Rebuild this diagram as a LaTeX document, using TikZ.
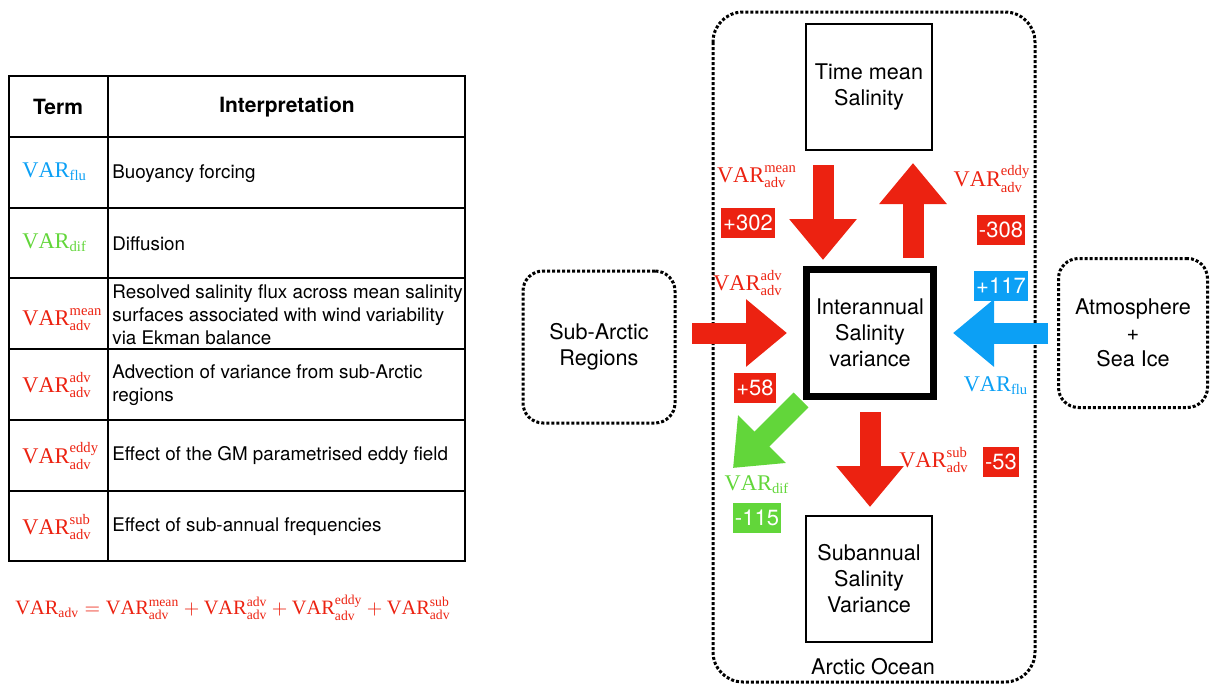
\documentclass[tikz,border=0pt]{standalone}
\usepackage{fontspec}
\setmainfont{TeX Gyre Heros}
\setmathrm{Liberation Serif}
\usetikzlibrary{arrows.meta}

\definecolor{varred}{RGB}{236,34,17}
\definecolor{varblue}{RGB}{12,160,245}
\definecolor{vargreen}{RGB}{98,214,58}

\DeclareMathSizes{11.2}{11.2}{7.3}{5}
\DeclareMathSizes{10.2}{10.2}{6.8}{5}

\newcommand{\vadv}[1]{$\mathrm{VAR}^{\mathrm{#1}}_{\mathrm{adv}}$}
\newcommand{\vsub}[1]{$\mathrm{VAR}_{\mathrm{#1}}$}

\tikzset{
  every node/.style={font=\fontsize{10.8}{13}\selectfont},
  headtxt/.style={font=\fontsize{10.5}{12.5}\selectfont\bfseries},
  celltxt/.style={anchor=west, align=left, inner sep=0pt, font=\fontsize{9.4}{11.6}\selectfont},
  vartxt/.style={inner sep=0pt, font=\fontsize{11.2}{12}\selectfont},
  salbox/.style={draw, line width=1pt, minimum width=63pt, minimum height=63pt, align=center},
  dotbox/.style={draw, line width=1.5pt, dash pattern=on 1.5pt off 1pt, rounded corners=10pt, align=center},
  numbox/.style={text=white, inner xsep=1.2pt, inner ysep=0pt, minimum height=15pt, font=\fontsize{11}{12}\selectfont},
  bigarr/.style={line width=10.5pt, -{Triangle[length=20.5pt, width=32.5pt]}}
}

\begin{document}
\begin{tikzpicture}[x=0.5pt, y=-0.5pt]
\useasboundingbox (0,0) rectangle (1212,685);

% table of terms
\draw[line width=0.6pt] (9,76) rectangle (465,561);
\draw[line width=0.6pt] (108,76) -- (108,561);
\draw[line width=1.1pt] (9,137) -- (465,137);
\foreach \y in {208,278,349,420,491}
  \draw[line width=0.6pt] (9,\y) -- (465,\y);
\node[headtxt] (hterm) at (58,107) {Term};
\node[headtxt] (hint) at (287,107) {Interpretation};

\node[vartxt, anchor=west, text=varblue] (tflu) at (22,172) {\vsub{flu}};
\node[vartxt, anchor=west, text=vargreen] (tdif) at (22,243) {\vsub{dif}};
\node[vartxt, anchor=west, text=varred] (tmean) at (22,320) {\vadv{mean}};
\node[vartxt, anchor=west, text=varred] (tadv) at (22,385) {\vadv{adv}};
\node[vartxt, anchor=west, text=varred] (teddy) at (22,456) {\vadv{eddy}};
\node[vartxt, anchor=west, text=varred] (tsub) at (22,527) {\vadv{sub}};

\node[celltxt] (dflu) at (112,174) {Buoyancy forcing};
\node[celltxt] (ddif) at (112,244) {Diffusion};
\node[celltxt] (dmean) at (112,315) {Resolved salinity flux across mean salinity\\surfaces associated with wind variability\\via Ekman balance};
\node[celltxt] (dadv) at (112,385) {Advection of variance from sub-Arctic\\regions};
\node[celltxt] (deddy) at (112,456) {Effect of the GM parametrised eddy field};
\node[celltxt] (dsub) at (112,527) {Effect of sub-annual frequencies};

\node[vartxt, font=\fontsize{10.2}{12}\selectfont, text=varred] (budget) at (233,608)
  {$\mathrm{VAR}_{\mathrm{adv}} = \mathrm{VAR}^{\mathrm{mean}}_{\mathrm{adv}} + \mathrm{VAR}^{\mathrm{adv}}_{\mathrm{adv}} + \mathrm{VAR}^{\mathrm{eddy}}_{\mathrm{adv}} + \mathrm{VAR}^{\mathrm{sub}}_{\mathrm{adv}}$};

% arctic ocean budget
\draw[line width=1.5pt, dash pattern=on 1.5pt off 1pt, rounded corners=15pt] (713,12) rectangle (1035,682);
\node (ocean) at (873,667) {Arctic Ocean};

\node[salbox] (mean) at (869,87) {Time mean\\Salinity};
\node[salbox, line width=3.5pt, minimum width=63.5pt, minimum height=63.5pt] (inter) at (870,333) {Interannual\\Salinity\\variance};
\node[salbox] (subann) at (869,579) {Subannual\\Salinity\\Variance};
\node[dotbox, minimum width=76pt, minimum height=76pt] (subarc) at (599,347) {Sub-Arctic\\Regions};
\node[dotbox, minimum width=74.5pt, minimum height=74.5pt] (atmos) at (1133,333) {Atmosphere\\+\\Sea Ice};

\coordinate (meanA) at (823,165);
\coordinate (meanB) at (823,260);
\coordinate (eddyA) at (913,258);
\coordinate (eddyB) at (913,163);
\coordinate (advA) at (692,333);
\coordinate (advB) at (787,333);
\coordinate (fluA) at (1048,333);
\coordinate (fluB) at (953,333);
\coordinate (subA) at (870,412);
\coordinate (subB) at (870,507);
\coordinate (difA) at (801,400);
\coordinate (difB) at (733,468);

\draw[bigarr, varred] (meanA) -- (meanB);
\draw[bigarr, varred] (eddyA) -- (eddyB);
\draw[bigarr, varred] (advA) -- (advB);
\draw[bigarr, varblue] (fluA) -- (fluB);
\draw[bigarr, varred] (subA) -- (subB);
\draw[bigarr, vargreen] (difA) -- (difB);

\node[vartxt, text=varred] (lmean) at (757,177) {\vadv{mean}};
\node[vartxt, text=varred] (leddy) at (992,179) {\vadv{eddy}};
\node[vartxt, text=varred] (ladv) at (748,283) {\vadv{adv}};
\node[vartxt, text=varblue] (lflu) at (996,386) {\vsub{flu}};
\node[vartxt, text=vargreen] (ldif) at (757,485) {\vsub{dif}};
\node[vartxt, text=varred] (lsub) at (934,460) {\vadv{sub}};

\node[numbox, fill=varred] (n302) at (748,223) {+302};
\node[numbox, fill=varred] (n308) at (1001,230) {-308};
\node[numbox, fill=varblue] (n117) at (1001,286) {+117};
\node[numbox, fill=varred] (n58) at (755,388) {+58};
\node[numbox, fill=vargreen] (n115) at (757,518) {-115};
\node[numbox, fill=varred] (n53) at (1001,462) {-53};
\end{tikzpicture}
\end{document}
